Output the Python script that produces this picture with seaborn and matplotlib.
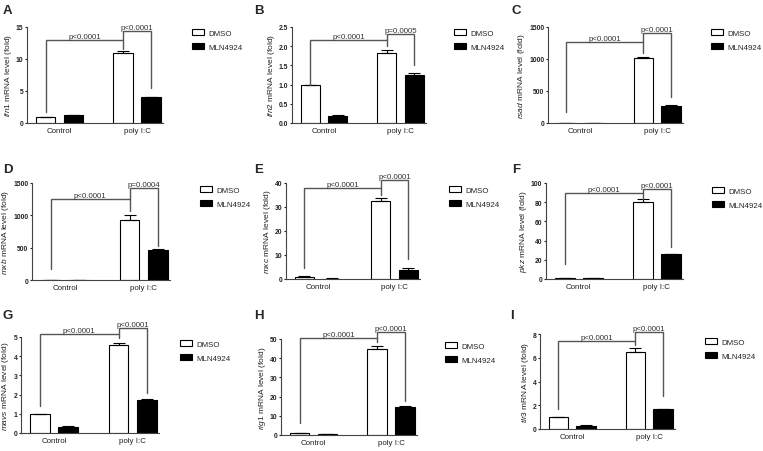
import matplotlib
matplotlib.use("Agg")
import matplotlib.pyplot as plt
import seaborn as sns
import pandas as pd
from matplotlib.patches import Patch

sns.set_style("ticks")
plt.rcParams['font.family'] = ['Liberation Sans', 'DejaVu Sans']
plt.rcParams['mathtext.fontset'] = 'custom'
plt.rcParams['mathtext.it'] = 'Liberation Sans:italic'
plt.rcParams['mathtext.rm'] = 'Liberation Sans'

# ---------------- data ----------------
groups = ["Control", "poly I:C"]
treatments = ["DMSO", "MLN4924"]
panel_letters = ["A", "B", "C", "D", "E", "F", "G", "H", "I"]
genes = ["ifn1", "ifn2", "rsad", "mxb", "mxc", "pkz", "mavs", "rig1", "tlr3"]

dmso_vals = [[1.0, 10.9], [1.0, 1.83], [1.0, 1010], [1.0, 930], [1.0, 32.3],
             [1.0, 80.0], [1.0, 4.6], [1.0, 45.0], [1.0, 6.5]]
dmso_err = [[0.0, 0.3], [0.0, 0.07], [0.0, 15], [0.0, 68], [0.1, 1.3],
            [0.1, 3.5], [0.0, 0.1], [0.1, 1.3], [0.0, 0.3]]
mln_vals = [[1.2, 4.0], [0.19, 1.26], [0.5, 270], [0.5, 465], [0.2, 3.8],
            [1.0, 26.0], [0.33, 1.73], [0.7, 14.6], [0.28, 1.65]]
mln_err = [[0.05, 0.1], [0.01, 0.05], [0.0, 5], [0.0, 8], [0.05, 0.8],
           [0.1, 0.5], [0.03, 0.03], [0.05, 0.3], [0.02, 0.05]]

p_main = ["p<0.0001"] * 9
p_second = ["p<0.0001", "p=0.0005", "p<0.0001", "p=0.0004", "p<0.0001",
            "p<0.0001", "p<0.0001", "p<0.0001", "p<0.0001"]

y_ticks = [[0, 5, 10, 15], [0.0, 0.5, 1.0, 1.5, 2.0, 2.5], [0, 500, 1000, 1500],
           [0, 500, 1000, 1500], [0, 10, 20, 30, 40], [0, 20, 40, 60, 80, 100],
           [0, 1, 2, 3, 4, 5], [0, 10, 20, 30, 40, 50], [0, 2, 4, 6, 8]]

# ---------------- annotation geometry (data units) ----------------
# (left leg bottom, bracket1 top, right leg bottom, bracket2 top, bracket2 right leg bottom)
brackets = [(1.7, 13.0, 11.6, 14.4, 5.4), (1.0, 2.17, 2.0, 2.33, 1.52),
            (167, 1260, 1090, 1400, 400), (166, 1245, 1074, 1422, 530),
            (4.5, 37.9, 35.1, 41.4, 8.4), (16, 89.6, 83.7, 93.4, 33),
            (1.39, 5.16, 4.95, 5.47, 2.08), (6.25, 50.5, 48.3, 53.5, 17.9),
            (1.70, 7.44, 7.05, 8.2, 2.76)]

# axes boxes in pixels: left, top, right, bottom
W, H = 763, 452
boxes = [(27, 28, 163, 124), (292, 28, 426, 124), (548, 28, 683, 124),
         (32, 184, 170, 281), (286, 184, 420, 280), (546, 184, 683, 280),
         (21, 338, 159, 434), (281, 340, 417, 436), (540, 335, 675, 430)]
legend_pos = [(192, 30), (454, 30), (711, 30), (200, 187), (449, 187), (712, 188),
              (180, 341), (445, 343), (705, 339)]
letter_pos = [(3, 14), (254, 14), (511, 14), (3, 173), (254, 173), (512, 173),
              (3, 319), (254, 319), (510, 319)]

fig = plt.figure(figsize=(W / 100, H / 100), dpi=100)
FS = 5.7
line_c = "#555555"

for i in range(9):
    l, t, r, b = boxes[i]
    ax = fig.add_axes([l / W, 1 - b / H, (r - l) / W, (b - t) / H])
    df = pd.DataFrame({
        "group": groups * 2,
        "treatment": [treatments[0]] * 2 + [treatments[1]] * 2,
        "value": dmso_vals[i] + mln_vals[i],
    })
    sns.barplot(data=df, x="group", y="value", hue="treatment", order=groups,
                hue_order=treatments, palette={"DMSO": "white", "MLN4924": "black"},
                edgecolor="black", linewidth=0.8, width=0.72, gap=0.3,
                errorbar=None, legend=False, ax=ax)
    # error bars (upper only)
    centers = []
    for ci, (vals, errs) in enumerate([(dmso_vals[i], dmso_err[i]), (mln_vals[i], mln_err[i])]):
        cont = ax.containers[ci]
        xs = [p.get_x() + p.get_width() / 2 for p in cont.patches]
        centers.append(xs)
        ax.errorbar(xs, vals, yerr=[[0] * len(errs), errs], fmt="none",
                    ecolor="black", elinewidth=0.8, capsize=4.3, capthick=0.8, zorder=1)
    ax.set_xlim(-0.42, 1.335)
    ax.set_ylim(y_ticks[i][0], y_ticks[i][-1])
    ax.set_yticks(y_ticks[i])
    if i == 1:
        ax.set_yticklabels([f"{v:.1f}" for v in y_ticks[i]])
    ax.set_xlabel("")
    ax.set_ylabel(r"$\it{" + genes[i] + r"}$ mRNA level (fold)", fontsize=6.0,
                  labelpad=1.5, color="#222222")
    ax.tick_params(axis="y", labelsize=4.9, length=1.8, width=0.8, pad=0.8,
                   colors="#222222")
    for lab in ax.get_yticklabels():
        lab.set_fontweight("bold")
    ax.tick_params(axis="x", labelsize=FS, length=0, pad=3, colors="#222222")
    for s in ["top", "right"]:
        ax.spines[s].set_visible(False)
    for s in ["left", "bottom"]:
        ax.spines[s].set_linewidth(0.8)
        ax.spines[s].set_color("#444444")

    # significance brackets
    lb, t1, rb, t2, rb2 = brackets[i]
    x0 = centers[0][0]
    x1 = centers[0][1]
    x2 = centers[1][1]
    ax.plot([x0, x0, x1, x1], [lb, t1, t1, rb], color=line_c, lw=1.0, clip_on=False,
            solid_joinstyle="miter")
    ax.plot([x1, x1, x2, x2], [t1, t2, t2, rb2], color=line_c, lw=1.0, clip_on=False,
            solid_joinstyle="miter")
    ax.text((x0 + x1) / 2, t1, p_main[i], ha="center", va="bottom", fontsize=FS,
            color="#333333")
    ax.text((x1 + x2) / 2, t2, p_second[i], ha="center", va="bottom", fontsize=FS,
            color="#333333")

    # legend
    handles = [Patch(facecolor="white", edgecolor="black", linewidth=0.8),
               Patch(facecolor="black", edgecolor="black", linewidth=0.8)]
    lx, ly = legend_pos[i]
    ax.legend(handles, treatments, loc="upper left", bbox_to_anchor=(lx / W, 1 - ly / H),
              bbox_transform=fig.transFigure, frameon=False, fontsize=FS,
              handlelength=1.55, handleheight=0.77, handletextpad=0.5,
              labelspacing=0.77, borderpad=0, borderaxespad=0)

    lx, ly = letter_pos[i]
    fig.text(lx / W, 1 - ly / H, panel_letters[i], fontsize=9.5, fontweight="bold",
             ha="left", va="baseline")

fig.savefig("out.png", dpi=100)
